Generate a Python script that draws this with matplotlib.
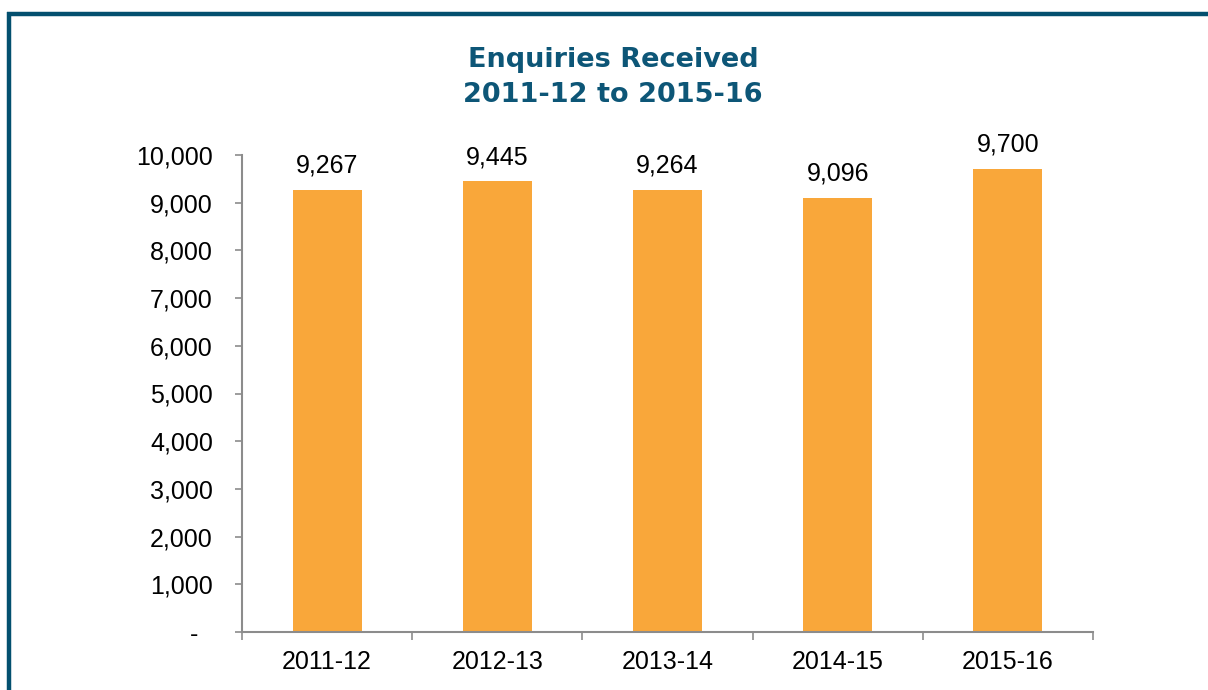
import matplotlib
matplotlib.use("Agg")
import matplotlib.pyplot as plt
from matplotlib.lines import Line2D

categories = ["2011-12", "2012-13", "2013-14", "2014-15", "2015-16"]
values = [9267, 9445, 9264, 9096, 9700]
yticks = [0, 1000, 2000, 3000, 4000, 5000, 6000, 7000, 8000, 9000, 10000]
ytick_labels = ["-  ", "1,000", "2,000", "3,000", "4,000", "5,000", "6,000",
                "7,000", "8,000", "9,000", "10,000"]
title = "Enquiries Received\n2011-12 to 2015-16"

W, H = 1208, 690
fig = plt.figure(figsize=(W / 100, H / 100), dpi=100)
fig.patch.set_facecolor("white")

ax = fig.add_axes([242 / W, 1 - 632 / H, (1093 - 242) / W, (632 - 155) / H])
x = list(range(len(categories)))
ax.bar(x, values, width=0.405, color="#F9A73A", edgecolor="none")
ax.set_xlim(-0.5, len(categories) - 0.5)
ax.set_ylim(0, 10000)

for xi, v in zip(x, values):
    ax.annotate(f"{v:,}", (xi, v), xytext=(0, 12.5), textcoords="offset points",
                ha="center", va="baseline", fontsize=18, family="Liberation Sans",
                color="black")

ax.set_yticks(yticks)
ax.set_yticklabels(ytick_labels, family="Liberation Sans", fontsize=18)
ax.tick_params(axis="y", length=5, width=1.2, color="#8C8C8C", pad=16)

bounds = [i - 0.5 for i in range(len(categories) + 1)]
ax.set_xticks(bounds)
ax.set_xticklabels([""] * len(bounds))
ax.tick_params(axis="x", which="major", length=6, width=1.2, color="#8C8C8C", direction="out")
ax.set_xticks(x, minor=True)
ax.set_xticklabels(categories, minor=True, family="Liberation Sans", fontsize=18)
ax.tick_params(axis="x", which="minor", length=0, pad=13)

for s in ["top", "right"]:
    ax.spines[s].set_visible(False)
for s in ["left", "bottom"]:
    ax.spines[s].set_color("#8C8C8C")
    ax.spines[s].set_linewidth(1.5)

fig.text(613 / W, 1 - 102 / H, title, ha="center", va="baseline",
         fontsize=19.5, fontweight="bold", family="DejaVu Sans", color="#0D5677",
         linespacing=1.45)

border = "#03506F"
fig.add_artist(Line2D([7 / W, 1.0], [1 - 14 / H, 1 - 14 / H], transform=fig.transFigure,
                      color=border, linewidth=3.2, solid_capstyle="butt"))
fig.add_artist(Line2D([9 / W, 9 / W], [1 - 12 / H, 0.0], transform=fig.transFigure,
                      color=border, linewidth=3.2, solid_capstyle="butt"))

fig.savefig("out.png", dpi=100)
